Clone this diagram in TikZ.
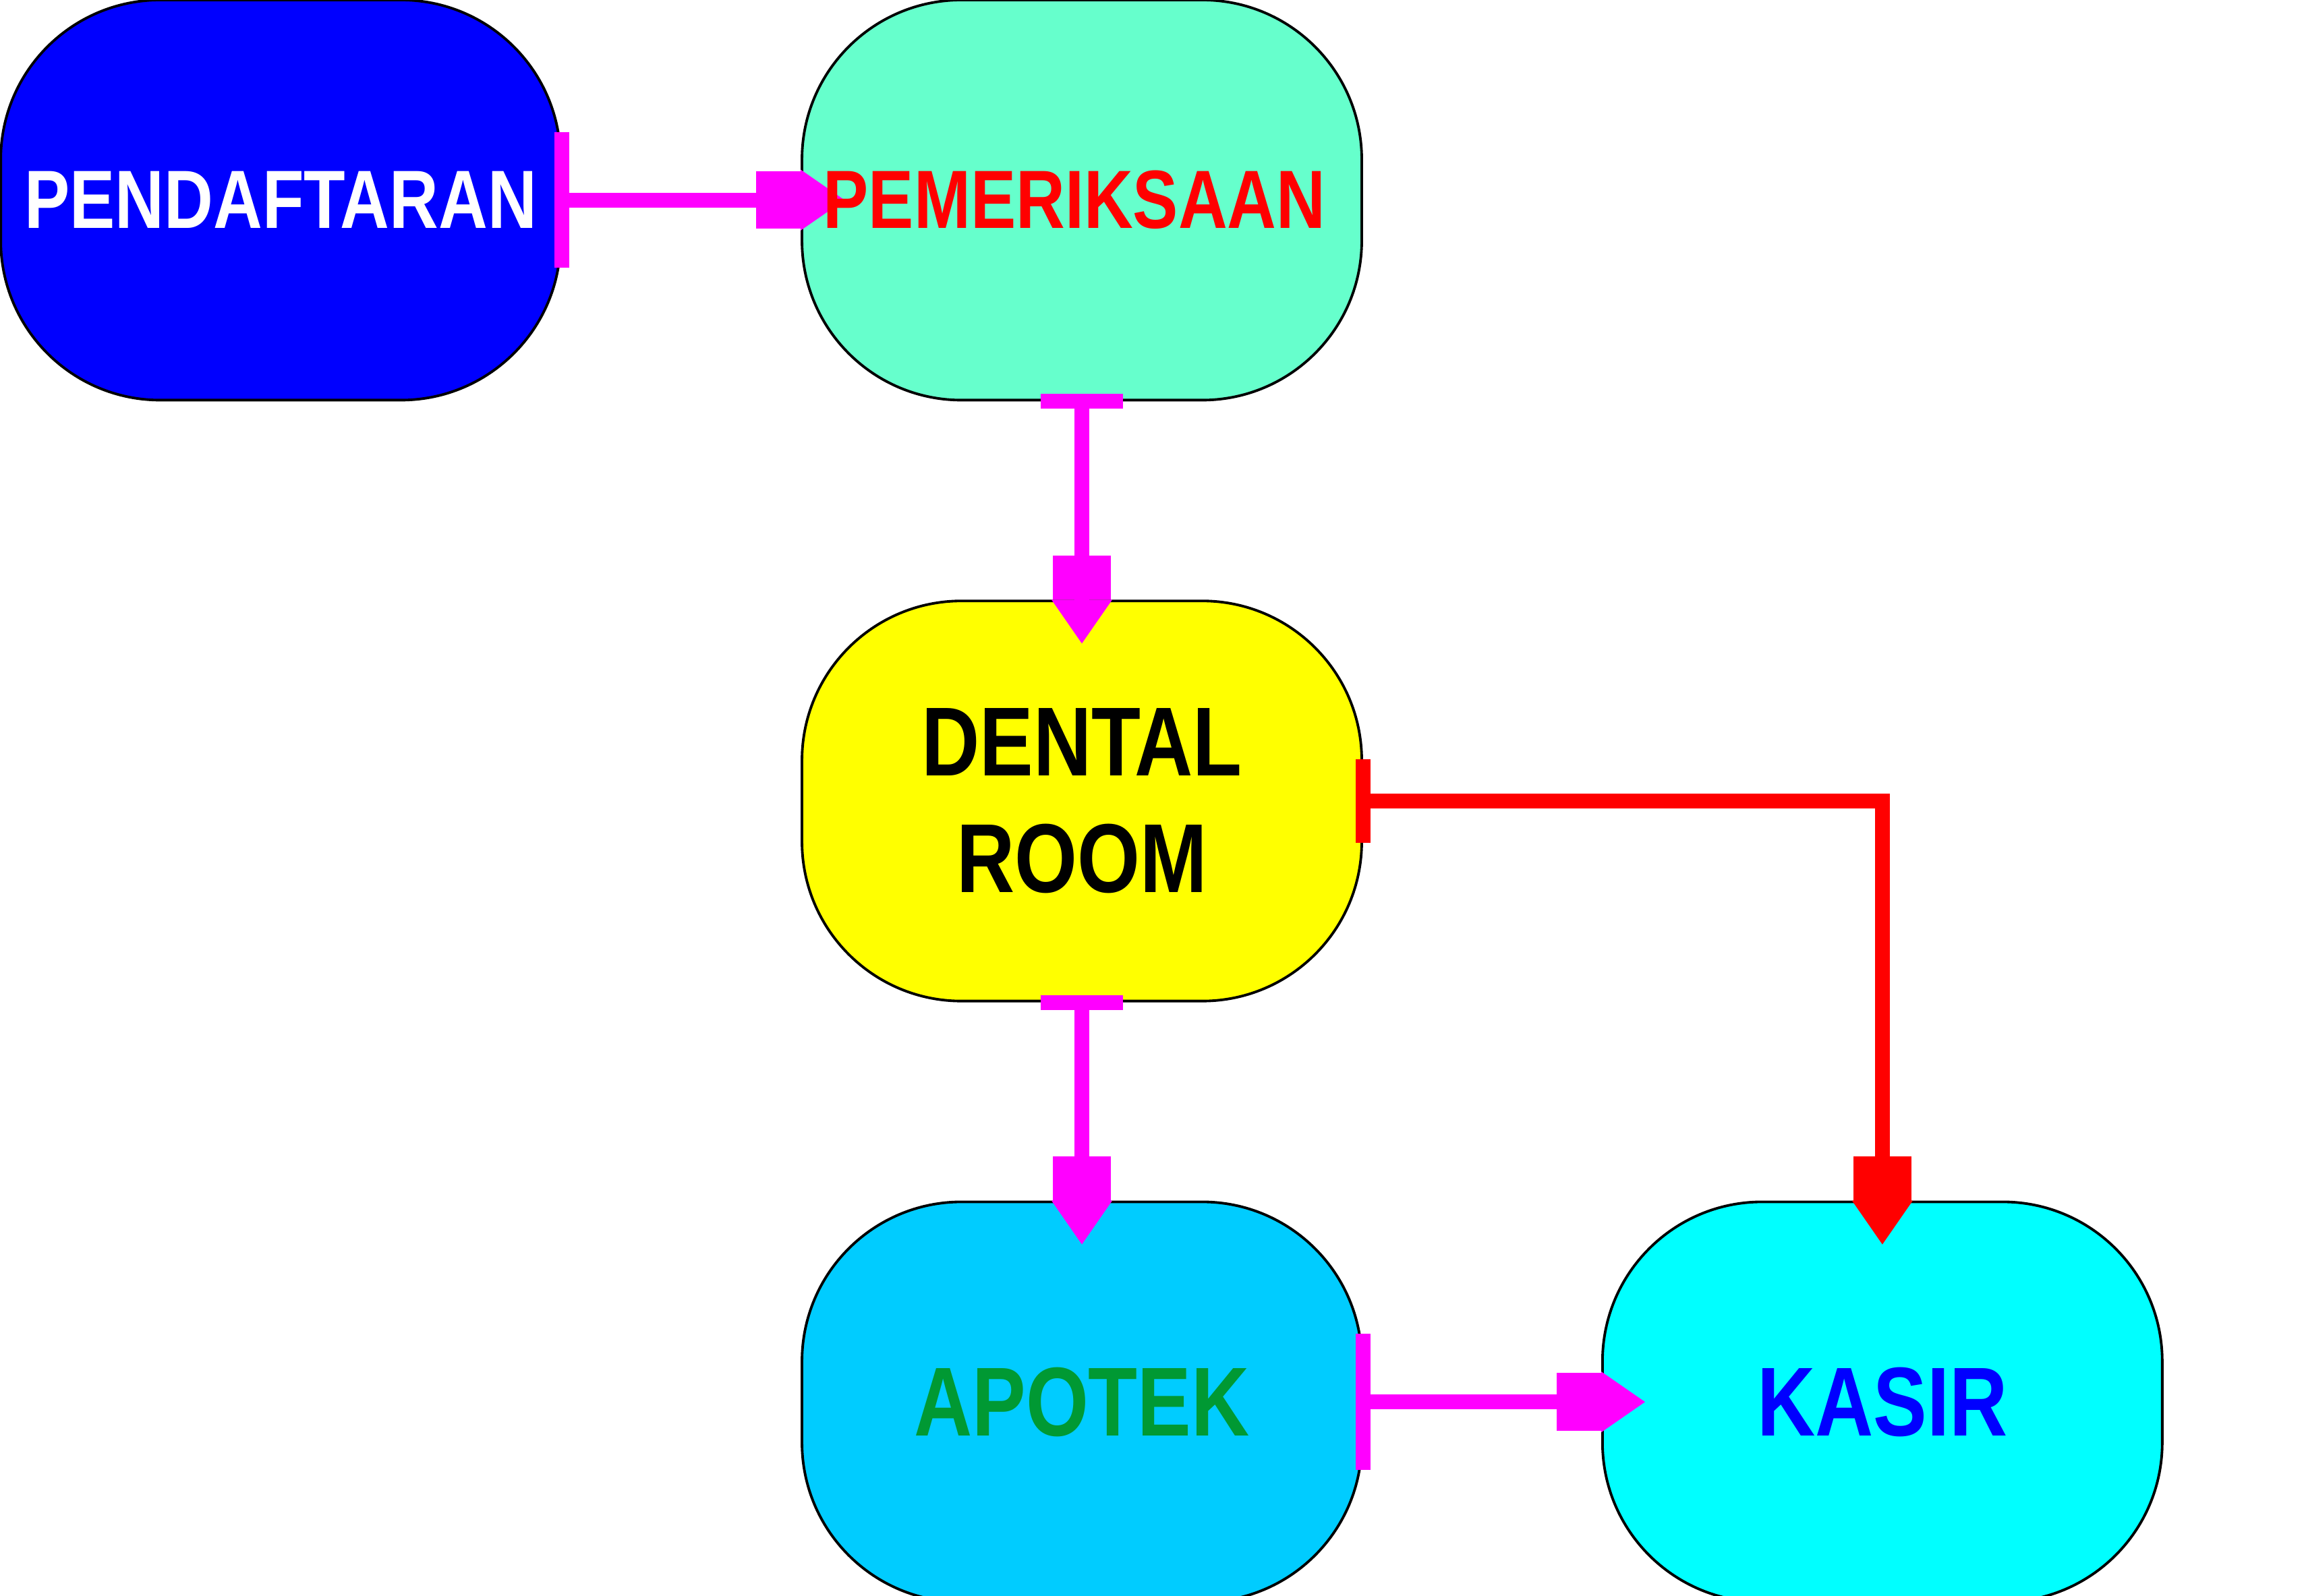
\documentclass[tikz,border=0pt]{standalone}
\usepackage{graphicx,xcolor}
\usepackage{fontspec}
\setmainfont{Liberation Sans}
\usetikzlibrary{arrows.meta}

\definecolor{daftarblue}{HTML}{0000FF}
\definecolor{periksagreen}{HTML}{66FFCC}
\definecolor{dentalyellow}{HTML}{FFFF00}
\definecolor{apotekblue}{HTML}{00CCFF}
\definecolor{kasircyan}{HTML}{00FFFF}
\definecolor{flowmagenta}{HTML}{FF00FF}
\definecolor{obatgreen}{HTML}{009933}

\newcommand{\tallcaps}[1]{\scalebox{0.97}[1.18]{#1}}

\tikzset{
    unit/.style={draw=black, line width=0.5pt, rounded corners=1.08cm,
        minimum width=3.79cm, minimum height=2.71cm, inner sep=0pt,
        align=center, font=\bfseries\fontsize{13.5}{16}\selectfont},
    bigtext/.style={font=\bfseries\fontsize{16}{22.5}\selectfont},
    flow/.style n args={2}{line width=0.1cm, draw=#1,
        arrows={{Bar[width=#2]}-{Rectangle[length=0.3cm,width=0.39cm]Triangle[length=0.3cm,width=0.39cm]}},
        shorten <=-0.05cm, shorten >=-0.3cm}
}

\begin{document}
\begin{tikzpicture}
    \useasboundingbox (0,0) rectangle (15.6,-10.805);   % page size
            \node [unit, fill=daftarblue, text=white] (daftar) at (1.9,-1.355) {\tallcaps{PENDAFTARAN}};     % first step
            \node [unit, fill=periksagreen] (periksa) at (7.325,-1.355) {};                                  % check (label drawn last)
            \node [unit, bigtext, fill=dentalyellow, text=black] (dental) at (7.325,-5.425)
                {\tallcaps{DENTAL}\\\tallcaps{ROOM}};                                                         % treatment
            \node [unit, bigtext, fill=apotekblue, text=obatgreen] (apotek) at (7.325,-9.495) {\tallcaps{APOTEK}}; % pharmacy
            \node [unit, bigtext, fill=kasircyan, text=daftarblue] (kasir) at (12.745,-9.495) {\tallcaps{KASIR}};  % payment
            \draw [flow={flowmagenta}{0.92cm}] (daftar.east) -- (periksa.west);   % to check
            \draw [flow={flowmagenta}{0.56cm}] (periksa.south) -- (dental.north); % to dental room
            \draw [flow={flowmagenta}{0.56cm}] (dental.south) -- (apotek.north);  % to pharmacy
            \draw [flow={red}{0.57cm}] (dental.east) -| (kasir.north);            % straight to payment
            \draw [flow={flowmagenta}{0.92cm}] (apotek.east) -- (kasir.west);     % pharmacy to payment
            \node [font=\bfseries\fontsize{13.5}{16}\selectfont, text=red, xshift=-0.05cm] (periksatext) at (periksa)
                {\tallcaps{PEMERIKSAAN}};                                          % label over tip
\end{tikzpicture}
\end{document}
